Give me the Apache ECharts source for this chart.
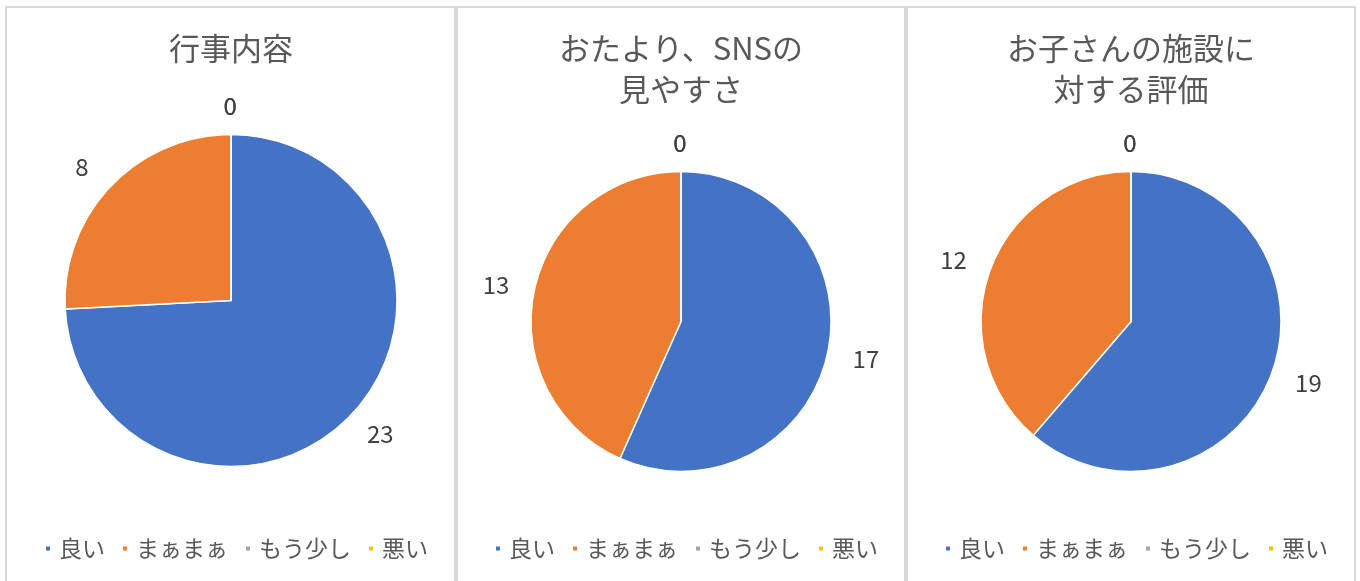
<!DOCTYPE html>
<html>
<head>
<meta charset="utf-8">
<script src="https://cdn.jsdelivr.net/npm/echarts@6/dist/echarts.min.js"></script>
<style>
html,body{margin:0;padding:0;background:#fff;}
#main{width:1360px;height:581px;}
</style>
</head>
<body>
<div id="main"></div>
<script>
const categories = ['良い', 'まぁまぁ', 'もう少し', '悪い'];
const chartTitles = ['行事内容', 'おたより、SNSの\n見やすさ', 'お子さんの施設に\n対する評価'];
const valuesEvent = [23, 8, 0, 0];
const valuesNews = [17, 13, 0, 0];
const valuesFacility = [19, 12, 0, 0];
const allValues = [valuesEvent, valuesNews, valuesFacility];

const colors = ['#4472C4', '#ED7D31', '#A5A5A5', '#FFC000'];
const FONT = '"Noto Sans CJK JP", "Noto Sans", sans-serif';

const panelLeft = [6, 457, 907];
const panelWidth = [449, 448, 448];
const pieCenters = [[231, 300.5], [681, 321.5], [1131, 321.5]];
const pieRadius = [166, 150, 150];
const legendLeft = [44, 494, 944];

const chart = echarts.init(document.getElementById('main'), null, {renderer: 'canvas'});

// push each label outward along its own direction (more horizontally than vertically)
function outwardLayout(p) {
  const rc = p.labelRect;
  const c = pieCenters[p.seriesIndex];
  let ux = rc.x + rc.width / 2 - c[0];
  let uy = rc.y + rc.height / 2 - c[1];
  const n = Math.hypot(ux, uy) || 1;
  ux /= n; uy /= n;
  return {align: 'center', verticalAlign: 'middle', dx: ux * 24, dy: uy * 14};
}

const option = {
  animation: false,
  color: colors,
  graphic: panelLeft.map((x, i) => ({
    type: 'rect',
    shape: {x: x, y: 7, width: panelWidth[i], height: 620},
    style: {fill: 'none', stroke: '#d9d9d9', lineWidth: 2},
    silent: true,
    z: -1
  })),
  title: chartTitles.map((t, i) => ({
    text: t,
    left: pieCenters[i][0],
    top: 28,
    padding: 0,
    textAlign: 'center',
    textStyle: {
      fontFamily: FONT,
      fontSize: 31,
      fontWeight: 'normal',
      color: '#595959',
      lineHeight: 41
    }
  })),
  legend: allValues.map((v, i) => ({
    data: categories.map(c => ({name: c, icon: 'rect'})),
    orient: 'horizontal',
    left: legendLeft[i],
    top: 537,
    padding: 0,
    itemWidth: 6,
    itemHeight: 6,
    itemGap: 16,
    selectedMode: false,
    textStyle: {
      fontFamily: FONT,
      fontSize: 23,
      color: '#595959',
      padding: [0, 0, 0, 3]
    }
  })),
  series: allValues.map((vals, i) => ({
    type: 'pie',
    center: pieCenters[i],
    radius: pieRadius[i],
    startAngle: 90,
    clockwise: true,
    avoidLabelOverlap: false,
    minShowLabelAngle: 0,
    itemStyle: {borderColor: '#ffffff', borderWidth: 1.5},
    label: {
      show: true,
      position: 'outside',
      formatter: '{c}',
      fontFamily: FONT,
      fontSize: 24,
      color: '#404040',
      distanceToLabelLine: 0
    },
    labelLine: {show: false, length: 15, length2: 0},
    labelLayout: outwardLayout,
    emphasis: {disabled: true},
    data: categories.map((c, k) => ({name: c, value: vals[k]}))
  }))
};

chart.setOption(option);
</script>
</body>
</html>
